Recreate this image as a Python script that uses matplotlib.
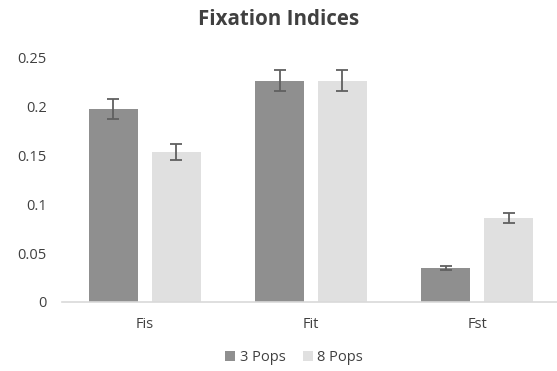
import numpy as np
import matplotlib.pyplot as plt

categories = ['Fis', 'Fit', 'Fst']
series = ['3 Pops', '8 Pops']
pops3 = [0.197, 0.226, 0.035]
pops8 = [0.153, 0.226, 0.086]
err3 = [0.010, 0.011, 0.002]
err8 = [0.008, 0.011, 0.005]
yticks = [0, 0.05, 0.1, 0.15, 0.2, 0.25]
yticklabels = ['0', '0.05', '0.1', '0.15', '0.2', '0.25']

plt.rcParams['font.family'] = ['Open Sans', 'DejaVu Sans']

fig = plt.figure(figsize=(5.57, 3.71), dpi=100)
ax = fig.add_axes([0.111, 0.186, 0.889, 0.66])

x = np.arange(len(categories))
w = 0.294
off = (w + 14 / 166.5) / 2
ax.bar(x - off, pops3, w, color='#8f8f8f', label=series[0], zorder=2)
ax.bar(x + off, pops8, w, color='#e0e0e0', label=series[1], zorder=2)
ax.errorbar(x - off, pops3, yerr=err3, fmt='none', ecolor='#606060',
            elinewidth=1.3, capsize=4.5, capthick=1.3, zorder=3)
ax.errorbar(x + off, pops8, yerr=err8, fmt='none', ecolor='#606060',
            elinewidth=1.3, capsize=4.5, capthick=1.3, zorder=3)

ax.set_xlim(-0.5, 2.48)
ax.set_ylim(0, 0.25)
ax.set_xticks(x)
ax.set_xticklabels(categories)
ax.set_yticks(yticks)
ax.set_yticklabels(yticklabels)
ax.tick_params(axis='both', length=0, labelsize=10.5, labelcolor='#404040')
ax.tick_params(axis='y', pad=11)
ax.tick_params(axis='x', pad=11)

for s in ['top', 'right', 'left']:
    ax.spines[s].set_visible(False)
ax.spines['bottom'].set_color('#d9d9d9')
ax.spines['bottom'].set_linewidth(1.2)

fig.suptitle('Fixation Indices', x=0.5, y=0.975, fontsize=14.8,
             fontweight='bold', color='#404040')

fig.legend(loc='lower center', bbox_to_anchor=(0.528, -0.02), ncol=2,
           frameon=False, fontsize=10.5, handlelength=0.7, handleheight=0.7,
           columnspacing=1.2, handletextpad=0.3, labelcolor='#404040')

fig.savefig('out.png', dpi=100)
